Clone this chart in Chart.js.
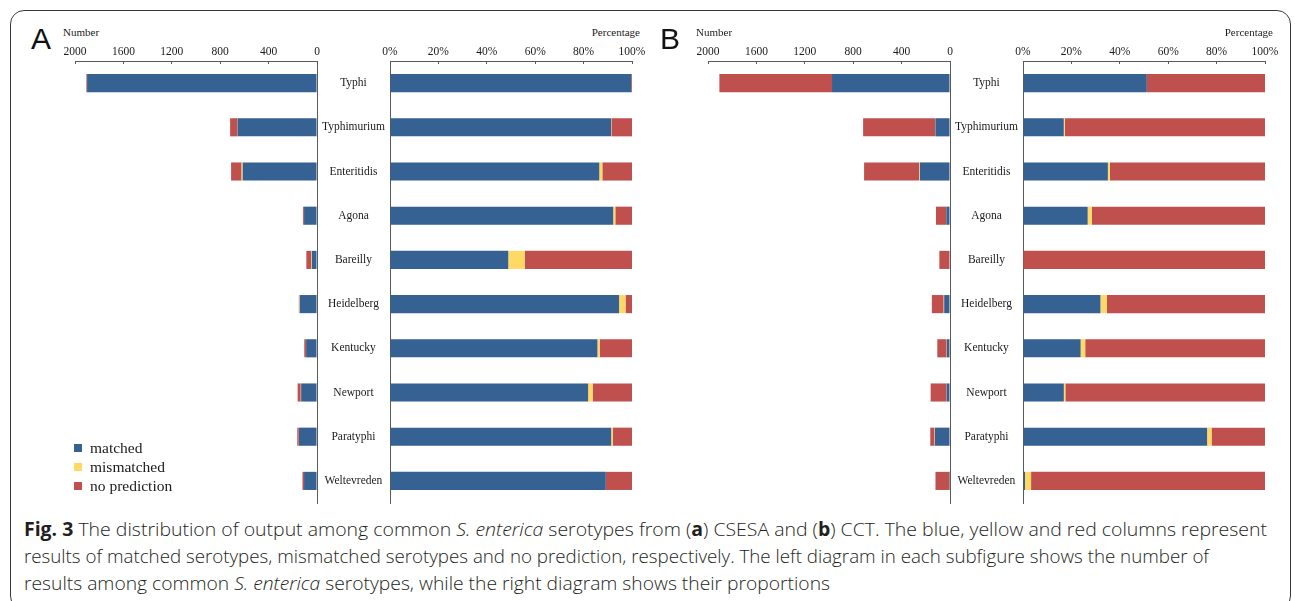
<!DOCTYPE html>
<html>
<head>
<meta charset="utf-8">
<title>Serotype prediction output</title>
<script src="https://cdn.jsdelivr.net/npm/chart.js@4.4.1/dist/chart.umd.min.js"></script>
<style>
  html, body { margin: 0; padding: 0; background: #fff; }
  body { width: 1295px; height: 601px; position: relative; overflow: hidden;
         font-family: "Liberation Serif", "Times New Roman", serif; color: #1b1b1b; }
  #frame { position: absolute; left: 10px; top: 10px; width: 1281px; height: 600px;
           border: 1.5px solid #3a3a3a; border-radius: 14px; box-sizing: border-box; }
  .panel { position: absolute; top: 0; width: 650px; height: 515px; }
  .panel canvas { position: absolute; }
  .letter { position: absolute; top: 24px; font-family: "Liberation Sans", Arial, sans-serif;
            font-size: 30px; line-height: 1; color: #111; }
  .axis-title { position: absolute; top: 27px; font-size: 11px; line-height: 1; white-space: nowrap; }
  .legend { position: absolute; left: 74px; top: 438px; font-size: 15.5px; line-height: 19px; }
  .legend div { position: relative; padding-left: 16px; white-space: nowrap; }
  .legend i { position: absolute; left: 0; top: 6px; width: 8px; height: 8px; }
  .caption { position: absolute; left: 24px; top: 516px; font-family: "Open Sans", sans-serif;
             font-size: 19px; font-weight: 300; line-height: 27px; color: #231f20; }
  .caption b { font-weight: 700; }
  .caption span.line { display: block; white-space: nowrap; transform-origin: 0 0; width: max-content; }
</style>
</head>
<body>
<div id="frame"></div>
<div id="panelA" class="panel" style="left:0px"></div>
<div id="panelB" class="panel" style="left:633px"></div>
<div class="legend" id="legend"></div>
<div class="caption" id="caption">
  <span class="line" data-w="1243"><b>Fig. 3</b> The distribution of output among common <i>S. enterica</i> serotypes from (<b>a</b>) CSESA and (<b>b</b>) CCT. The blue, yellow and red columns represent</span>
  <span class="line" data-w="1185">results of matched serotypes, mismatched serotypes and no prediction, respectively. The left diagram in each subfigure shows the number of</span>
  <span class="line" data-w="806">results among common <i>S. enterica</i> serotypes, while the right diagram shows their proportions</span>
</div>
<script>
// Common serotypes, top to bottom
const categories = ['Typhi', 'Typhimurium', 'Enteritidis', 'Agona', 'Bareilly',
                    'Heidelberg', 'Kentucky', 'Newport', 'Paratyphi', 'Weltevreden'];

// (A) CSESA: number of genomes per outcome
const csesaMatched      = [1900, 656, 614, 107, 43, 142, 90, 131, 149, 107];
const csesaMismatched   = [   0,   1,   9,   1,  6,   4,  1,   3,   1,   0];
const csesaNoPrediction = [   6,  61,  87,   8, 39,   4, 14,  26,  13,  13];

// (B) CCT: number of genomes per outcome
const cctMatched      = [975, 121, 249, 31,  0, 48, 25,  27, 124,   1];
const cctMismatched   = [  0,   3,   6,  2,  0,  4,  2,   1,   3,   3];
const cctNoPrediction = [931, 594, 455, 83, 88, 98, 78, 132,  36, 116];

// Axis ranges and tick steps
const countMax = 2000, countStep = 400;
const percentMax = 100, percentStep = 20;

const seriesNames  = ['matched', 'mismatched', 'no prediction'];
const seriesColors = ['#356193', '#ffd966', '#c0504d'];

const AXIS_COLOR = '#5a5a5a';
const TEXT_COLOR = '#1b1b1b';
const SERIF = '"Liberation Serif", "Times New Roman", serif';
const tickFont = { family: SERIF, size: 11.5 };

function toPercent(series) {
  const totals = categories.map((_, i) => series.reduce((s, arr) => s + arr[i], 0));
  return series.map(arr => arr.map((v, i) => totals[i] ? v / totals[i] * 100 : 0));
}

function makeDatasets(series) {
  return series.map((values, k) => ({
    label: seriesNames[k],
    data: values,
    backgroundColor: seriesColors[k],
    borderWidth: 0,
    barPercentage: 0.41,
    categoryPercentage: 1
  }));
}

// Keep the plot area fixed by the layout padding alone
function fixSize(prop, size) {
  return function (scale) {
    scale[prop] = size;
    scale.paddingLeft = scale.paddingRight = scale.paddingTop = scale.paddingBottom = 0;
  };
}

function topAxis(max, step, reverse, format) {
  return {
    type: 'linear', position: 'top', stacked: true, reverse: reverse,
    min: 0, max: max,
    grid: { drawOnChartArea: false, drawTicks: true, tickLength: -3, color: AXIS_COLOR, lineWidth: 1 },
    border: { display: true, color: AXIS_COLOR, width: 1 },
    ticks: { stepSize: step, font: tickFont, color: TEXT_COLOR, padding: 5,
             maxRotation: 0, autoSkip: false, callback: format },
    afterFit: fixSize('height', 41)
  };
}

function addCanvas(panel, left, width) {
  const c = document.createElement('canvas');
  c.width = width; c.height = 490;
  c.style.left = left + 'px'; c.style.top = '20px';
  c.style.width = width + 'px'; c.style.height = '490px';
  panel.appendChild(c);
  return c;
}

const baseOptions = {
  indexAxis: 'y', responsive: false, animation: false, devicePixelRatio: 1,
  plugins: { legend: { display: false }, tooltip: { enabled: false } }
};

function buildPanel(panelId, letter, letterLeft, series) {
  const panel = document.getElementById(panelId);

  const L = document.createElement('div');
  L.className = 'letter'; L.textContent = letter; L.style.left = letterLeft + 'px';
  panel.appendChild(L);

  const t1 = document.createElement('div');
  t1.className = 'axis-title'; t1.textContent = 'Number'; t1.style.left = '63px';
  panel.appendChild(t1);

  const t2 = document.createElement('div');
  t2.className = 'axis-title'; t2.textContent = 'Percentage'; t2.style.right = (650 - 640) + 'px';
  panel.appendChild(t2);

  // Counts, growing leftward from the central axis
  new Chart(addCanvas(panel, 55, 270), {
    type: 'bar',
    data: { labels: categories, datasets: makeDatasets(series) },
    options: Object.assign({}, baseOptions, {
      layout: { padding: { left: 20, right: 8, top: 0, bottom: 7 } },
      scales: {
        x: topAxis(countMax, countStep, true, v => String(v)),
        y: {
          position: 'right', stacked: true,
          ticks: { display: false },
          grid: { display: true, drawOnChartArea: false, drawTicks: false, color: AXIS_COLOR },
          border: { display: true, color: AXIS_COLOR, width: 1 },
          afterFit: fixSize('width', 0)
        }
      }
    })
  });

  // Proportions, with serotype names in the middle column
  new Chart(addCanvas(panel, 317, 333), {
    type: 'bar',
    data: { labels: categories, datasets: makeDatasets(toPercent(series)) },
    options: Object.assign({}, baseOptions, {
      layout: { padding: { left: 0, right: 18, top: 0, bottom: 7 } },
      scales: {
        x: topAxis(percentMax, percentStep, false, v => v + '%'),
        y: {
          position: 'left', stacked: true,
          ticks: { font: tickFont, color: TEXT_COLOR, crossAlign: 'center', padding: 5, autoSkip: false },
          grid: { display: true, drawOnChartArea: false, drawTicks: false, color: AXIS_COLOR },
          border: { display: true, color: AXIS_COLOR, width: 1 },
          afterFit: fixSize('width', 73)
        }
      }
    })
  });
}

buildPanel('panelA', 'A', 31, [csesaMatched, csesaMismatched, csesaNoPrediction]);
buildPanel('panelB', 'B', 27, [cctMatched, cctMismatched, cctNoPrediction]);

// Legend
const legend = document.getElementById('legend');
seriesNames.forEach((name, k) => {
  const row = document.createElement('div');
  const sw = document.createElement('i');
  sw.style.background = seriesColors[k];
  row.appendChild(sw);
  row.appendChild(document.createTextNode(name));
  legend.appendChild(row);
});

// Caption lines set to their column widths
document.querySelectorAll('#caption .line').forEach(el => {
  const target = Number(el.dataset.w);
  const natural = el.getBoundingClientRect().width;
  el.style.transform = 'scaleX(' + (target / natural) + ')';
});
</script>
</body>
</html>
